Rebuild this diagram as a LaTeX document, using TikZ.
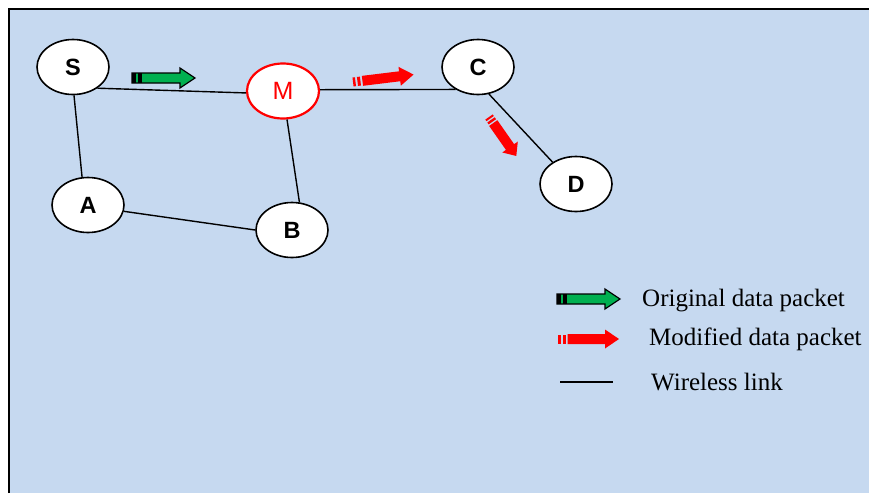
\documentclass[tikz,border=0pt]{standalone}
\usepackage{fontspec}
\setmainfont{Liberation Serif}
\newfontfamily\arialfont{Liberation Sans}
\usetikzlibrary{shapes.geometric}
\definecolor{bgblue}{HTML}{C6D9F0}
\definecolor{pktgreen}{HTML}{00B050}
\definecolor{pktred}{HTML}{FF0000}
\tikzset{
  netnode/.style={ellipse, draw=black, fill=white, line width=1.6pt,
    minimum width=72pt, minimum height=55pt, inner sep=0pt,
    font=\arialfont\bfseries\fontsize{23.5}{23.5}\selectfont},
  malnode/.style={netnode, draw=pktred, line width=2.2pt, text=pktred,
    font=\arialfont\fontsize{25}{25}\selectfont},
  link/.style={draw=black, line width=1.4pt},
  legtext/.style={anchor=base west, inner sep=0pt, font=\fontsize{25}{25}\selectfont},
  greenpkt/.pic={
    \draw[fill=pktgreen, line width=1.2pt, line join=miter]
      (0,-5) -- (48,-5) -- (48,-10) -- (63,0) -- (48,10) -- (48,5) -- (0,5) -- cycle;
    \fill[black] (0,-5) rectangle (4,5);
    \fill[black] (6,-5) rectangle (10,5);
  },
  redpkt/.pic={
    \fill[pktred] (0,-4.5) rectangle (2.5,4.5);
    \fill[pktred] (4.5,-4.5) rectangle (7.5,4.5);
    \fill[pktred] (9.5,-5) -- (47,-5) -- (47,-9.5) -- (61,0) -- (47,9.5) -- (47,5) -- (9.5,5) -- cycle;
  }
}
\begin{document}
\begin{tikzpicture}[x=1pt, y=-1pt]
\useasboundingbox (0,0) rectangle (869,493);
\fill[white] (0,0) rectangle (869,493);
\fill[bgblue] (9,9) rectangle (869,493);
\draw[black, line width=2.6pt] (9,493) -- (9,9) -- (869,9);

% nodes
\node[netnode] (S) at (73,67) {S};
\node[malnode] (M) at (283,91) {M};
\node[netnode] (C) at (478,67) {C};
\node[netnode] (D) at (576,184) {D};
\node[netnode] (A) at (88,205) {A};
\node[netnode] (B) at (292,230) {B};

% links
\draw[link] (S.-41) -- (M.183);
\draw[link] (M.2) -- (C.-135);
\draw[link] (C.-68) -- (D.137);
\draw[link] (S.-88) -- (A.102);
\draw[link] (A.-10) -- (B.180);
\draw[link] (M.-82) -- (B.75);

% packets
\pic at (132,78) {greenpkt};
\pic[rotate=7] at (353,82) {redpkt};
\pic[rotate=-55, xscale=0.78] at (489,117) {redpkt};

% legend
\pic at (557,299) {greenpkt};
\pic at (558,339) {redpkt};
\coordinate (L1) at (560,382);
\coordinate (L2) at (613,382);
\draw[link] (L1) -- (L2);
\node[legtext] (t1) at (642,306) {Original data packet};
\node[legtext] (t2) at (649,345) {Modified data packet};
\node[legtext] (t3) at (651,390) {Wireless link};
\end{tikzpicture}
\end{document}
